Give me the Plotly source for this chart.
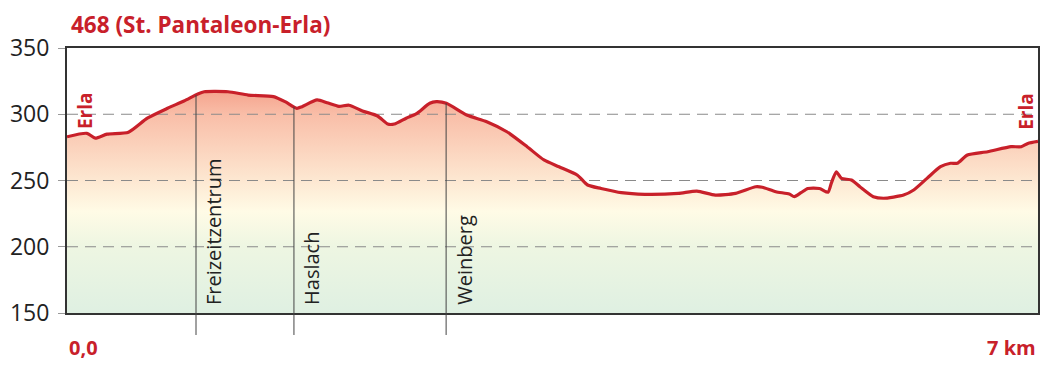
import numpy as np
import plotly.graph_objects as go

# ---- data ----
title_text = "468 (St. Pantaleon-Erla)"
dist_km = [0.000, 0.143, 0.204, 0.289, 0.443, 0.579, 0.725, 0.843, 0.943, 0.989,
           1.161, 1.306, 1.488, 1.572, 1.657, 1.694, 1.803, 1.875, 1.960, 2.033,
           2.130, 2.239, 2.312, 2.360, 2.445, 2.517, 2.615, 2.663, 2.735, 2.881,
           3.026, 3.171, 3.317, 3.438, 3.547, 3.680, 3.753, 3.850, 3.996, 4.165,
           4.407, 4.541, 4.674, 4.820, 4.965, 5.013, 5.110, 5.207, 5.243, 5.292,
           5.341, 5.425, 5.486, 5.510, 5.546, 5.583, 5.655, 5.716, 5.813, 5.886,
           6.031, 6.104, 6.200, 6.297, 6.370, 6.418, 6.491, 6.637, 6.806, 6.879,
           6.927, 7.000]
elev_m = [283.0, 285.6, 282.0, 285.0, 286.4, 297.0, 304.5, 310.0, 315.3, 317.0,
          317.0, 314.5, 313.3, 309.5, 304.5, 305.7, 310.8, 308.7, 306.0, 306.8,
          302.5, 298.7, 292.6, 292.6, 297.0, 300.2, 308.3, 309.5, 308.3, 299.4,
          294.4, 286.8, 275.5, 265.5, 260.4, 254.0, 246.6, 244.0, 240.8, 239.6,
          240.3, 242.0, 239.0, 240.3, 245.3, 244.9, 241.5, 239.8, 237.8, 240.8,
          244.0, 244.0, 241.1, 248.0, 256.6, 251.6, 250.4, 245.3, 237.8, 236.6,
          239.0, 242.8, 251.6, 260.4, 263.0, 263.0, 269.2, 271.7, 275.5, 275.5,
          278.0, 279.5]
waypoint_names = ["Freizeitzentrum", "Haslach", "Weinberg"]
waypoint_km = [0.930, 1.636, 2.733]
end_labels = ["Erla", "Erla"]
end_label_km = [0.131, 6.913]
end_label_elev = [302.5, 302.5]
y_ticks = [150, 200, 250, 300, 350]
grid_levels = [200, 250, 300]
x_range = [0, 7]
x_start_label = "0,0"
x_end_label = "7 km"

RED = "#c8202a"
FONT = "Open Sans"

fig = go.Figure()
# gradient fill under profile
fig.add_trace(go.Scatter(
    x=dist_km, y=elev_m, mode="lines",
    line=dict(width=0, shape="spline", smoothing=0.6),
    fill="tozeroy",
    fillgradient=dict(
        type="vertical", start=150, stop=320,
        colorscale=[[0.0, "#dff0e2"], [0.3, "#eef6e2"], [0.45, "#fffbe6"],
                    [0.6, "#fde6d0"], [0.88, "#f9bea8"], [1.0, "#f4a08a"]]),
    hoverinfo="skip", showlegend=False,
))
# dashed grid lines drawn above the fill
for g in grid_levels:
    fig.add_trace(go.Scatter(
        x=x_range, y=[g, g], mode="lines",
        line=dict(color="#8a8a8a", width=1, dash="11px,7px"),
        hoverinfo="skip", showlegend=False,
    ))
# profile line
fig.add_trace(go.Scatter(
    x=dist_km, y=elev_m, mode="lines",
    line=dict(color=RED, width=3.2, shape="spline", smoothing=0.6),
    hoverinfo="skip", showlegend=False,
))

shapes = []
annotations = []
for name, km in zip(waypoint_names, waypoint_km):
    top = float(np.interp(km, dist_km, elev_m))
    shapes.append(dict(type="line", xref="x", yref="y", x0=km, x1=km, y0=150, y1=top,
                       line=dict(color="#444", width=1)))
    shapes.append(dict(type="line", xref="x", yref="paper", x0=km, x1=km, y0=-0.083, y1=0,
                       line=dict(color="#444", width=1)))
    annotations.append(dict(x=km, y=154.5, xref="x", yref="y", text=name, showarrow=False,
                            textangle=-90, xanchor="left", yanchor="bottom", xshift=2,
                            font=dict(family=FONT, size=20, color="#222")))

for lab, km, el in zip(end_labels, end_label_km, end_label_elev):
    annotations.append(dict(x=km, y=el, xref="x", yref="y", text="<b>%s</b>" % lab,
                            showarrow=False, textangle=-90, xanchor="center", yanchor="middle",
                            font=dict(family=FONT, size=19, color=RED)))

annotations.append(dict(x=0.003, y=1.09, xref="paper", yref="paper", text="<b>%s</b>" % title_text,
                        showarrow=False, xanchor="left", yanchor="middle", borderpad=0,
                        font=dict(family=FONT, size=22.5, color=RED)))
annotations.append(dict(x=0, y=-0.132, xref="paper", yref="paper", text="<b>%s</b>" % x_start_label,
                        showarrow=False, xanchor="left", yanchor="middle",
                        font=dict(family=FONT, size=20, color=RED)))
annotations.append(dict(x=1, y=-0.132, xref="paper", yref="paper", text="<b>%s</b>" % x_end_label,
                        showarrow=False, xanchor="right", yanchor="middle",
                        font=dict(family=FONT, size=20, color=RED)))

# page body has an 8px margin, so the figure is sized/margined to compensate
fig.update_layout(
    width=1048, height=368,
    margin=dict(l=59, r=18, t=40, b=63, autoexpand=False),
    paper_bgcolor="white", plot_bgcolor="white",
    shapes=shapes, annotations=annotations,
    xaxis=dict(range=x_range, showticklabels=False, ticks="", showgrid=False, zeroline=False,
               automargin=False,
               showline=True, mirror=True, linecolor="#333", linewidth=2),
    yaxis=dict(range=[150, 350], tickvals=y_ticks, ticks="outside", ticklen=7, tickcolor="#999",
               tickwidth=1, showgrid=False, ticklabelstandoff=4, automargin=False,
               zeroline=False, showline=True, mirror=True, linecolor="#333", linewidth=2,
               tickfont=dict(family=FONT, size=23, color="#222")),
)
fig.write_html("out.html")
